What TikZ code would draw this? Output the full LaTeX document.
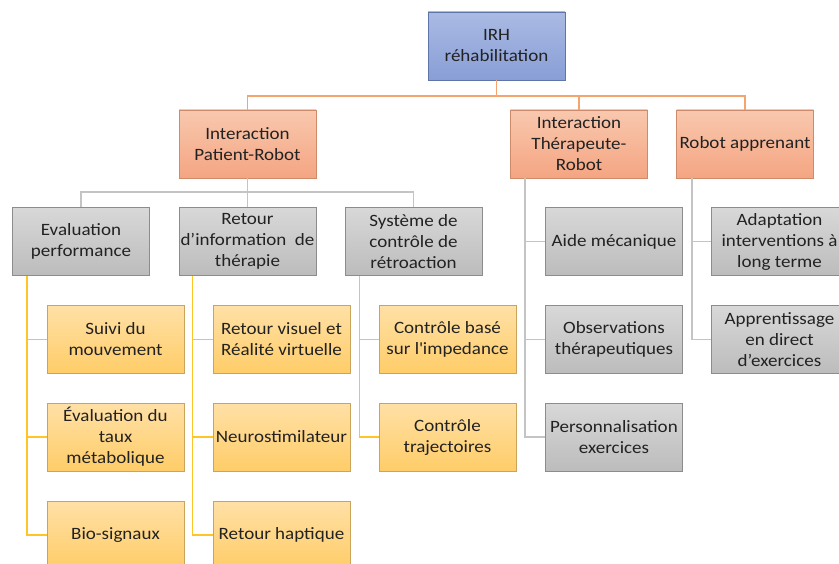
\documentclass[tikz,border=0pt]{standalone}
\usepackage{fontspec}
\setmainfont{Carlito}[FakeStretch=1.1]
\usetikzlibrary{calc}
\definecolor{txt}{HTML}{222222}
\definecolor{blueT}{HTML}{AABAE3}
\definecolor{blueB}{HTML}{889ED6}
\definecolor{blueD}{HTML}{5F74AA}
\definecolor{salT}{HTML}{F9C8AE}
\definecolor{salB}{HTML}{F4A582}
\definecolor{salD}{HTML}{CF8A6A}
\definecolor{grT}{HTML}{D8D8D8}
\definecolor{grB}{HTML}{BCBCBC}
\definecolor{grD}{HTML}{8C8C8C}
\definecolor{yeT}{HTML}{FFE0A6}
\definecolor{yeB}{HTML}{FFCD68}
\definecolor{yeD}{HTML}{C9A45A}
\definecolor{lnO}{HTML}{F4A46E}
\definecolor{lnG}{HTML}{C4C4C4}
\definecolor{lnY}{HTML}{FFC425}
\tikzset{
  boxbase/.style={rectangle, minimum width=137pt, minimum height=68pt, inner sep=0pt,
    align=center, text=txt, line width=0.9pt,
    font=\fontsize{17.3}{21}\selectfont},
  bluebox/.style={boxbase, top color=blueT, bottom color=blueB, draw=blueD},
  salbox/.style={boxbase, top color=salT, bottom color=salB, draw=salD},
  graybox/.style={boxbase, top color=grT, bottom color=grB, draw=grD},
  yelbox/.style={boxbase, top color=yeT, bottom color=yeB, draw=yeD},
  olink/.style={draw=lnO, line width=1.4pt},
  glink/.style={draw=lnG, line width=1.4pt},
  ylink/.style={draw=lnY, line width=1.4pt},
}
\begin{document}
\begin{tikzpicture}[x=1pt,y=-1pt]
\clip (0,0) rectangle (839,564);
\fill[white] (0,0) rectangle (839,564);

% level 1
\node[bluebox] (irh) at (496.5,46) {IRH\\réhabilitation};
% level 2
\node[salbox] (ipr) at (247.5,144) {Interaction\\Patient-Robot};
\node[salbox] (itr) at (579,144) {Interaction\\Thérapeute-\\Robot};
\node[salbox] (ra) at (745,144) {Robot apprenant};
% level 3 under patient-robot
\node[graybox] (ep) at (81,241.5) {Evaluation\\performance};
\node[graybox] (ri) at (247.5,241.5) {Retour\\d’information\ \ de\\thérapie};
\node[graybox] (sc) at (413.5,241.5) {Système de\\contrôle de\\rétroaction};
% therapist column
\node[graybox] (am) at (614,241.5) {Aide mécanique};
\node[graybox] (ob) at (614,339.5) {Observations\\thérapeutiques};
\node[graybox] (pe) at (614,437) {Personnalisation\\exercices};
% robot apprenant column
\node[graybox] (ad) at (779.5,241.5) {Adaptation\\interventions à\\long terme};
\node[graybox] (ap) at (779.5,339.5) {Apprentissage\\en direct\\d’exercices};
% level 4
\node[yelbox] (sm) at (115.5,339.5) {Suivi du\\mouvement};
\node[yelbox] (et) at (115.5,437) {Évaluation du\\taux\\métabolique};
\node[yelbox] (bs) at (115.5,535) {Bio-signaux};
\node[yelbox] (rv) at (281.5,339.5) {Retour visuel et\\Réalité virtuelle};
\node[yelbox] (ns) at (281.5,437) {Neurostimilateur};
\node[yelbox] (rh) at (281.5,535) {Retour haptique};
\node[yelbox] (cb) at (447.5,339.5) {Contrôle basé\\sur l\textquotesingle impedance};
\node[yelbox] (ct) at (447.5,437) {Contrôle\\trajectoires};

% connectors
\coordinate (j1) at (496.5,96);
\path[olink] (irh.south) -- (j1) -| (ipr.north);
\path[olink] (j1) -| (itr.north);
\path[olink] (j1) -| (ra.north);

\coordinate (j2) at (247.5,192);
\path[glink] (ipr.south) -- (j2) -| (ep.north);
\path[glink] (j2) -| (ri.north);
\path[glink] (j2) -| (sc.north);

\path[glink] ($(itr.south west)+(15,0)$) |- (am.west);
\path[glink] ($(itr.south west)+(15,0)$) |- (ob.west);
\path[glink] ($(itr.south west)+(15,0)$) |- (pe.west);

\path[glink] ($(ra.south west)+(16,0)$) |- (ad.west);
\path[glink] ($(ra.south west)+(16,0)$) |- (ap.west);

\path[ylink] ($(ep.south west)+(15,0)$) |- (sm.west);
\path[ylink] ($(ep.south west)+(15,0)$) |- (et.west);
\path[ylink] ($(ep.south west)+(15,0)$) |- (bs.west);

\path[ylink] ($(ri.south west)+(14,0)$) |- (rv.west);
\path[ylink] ($(ri.south west)+(14,0)$) |- (ns.west);
\path[ylink] ($(ri.south west)+(14,0)$) |- (rh.west);

\path[ylink] ($(sc.south west)+(15,0)$) |- (cb.west);
\path[ylink] ($(sc.south west)+(15,0)$) |- (ct.west);
\end{tikzpicture}
\end{document}
